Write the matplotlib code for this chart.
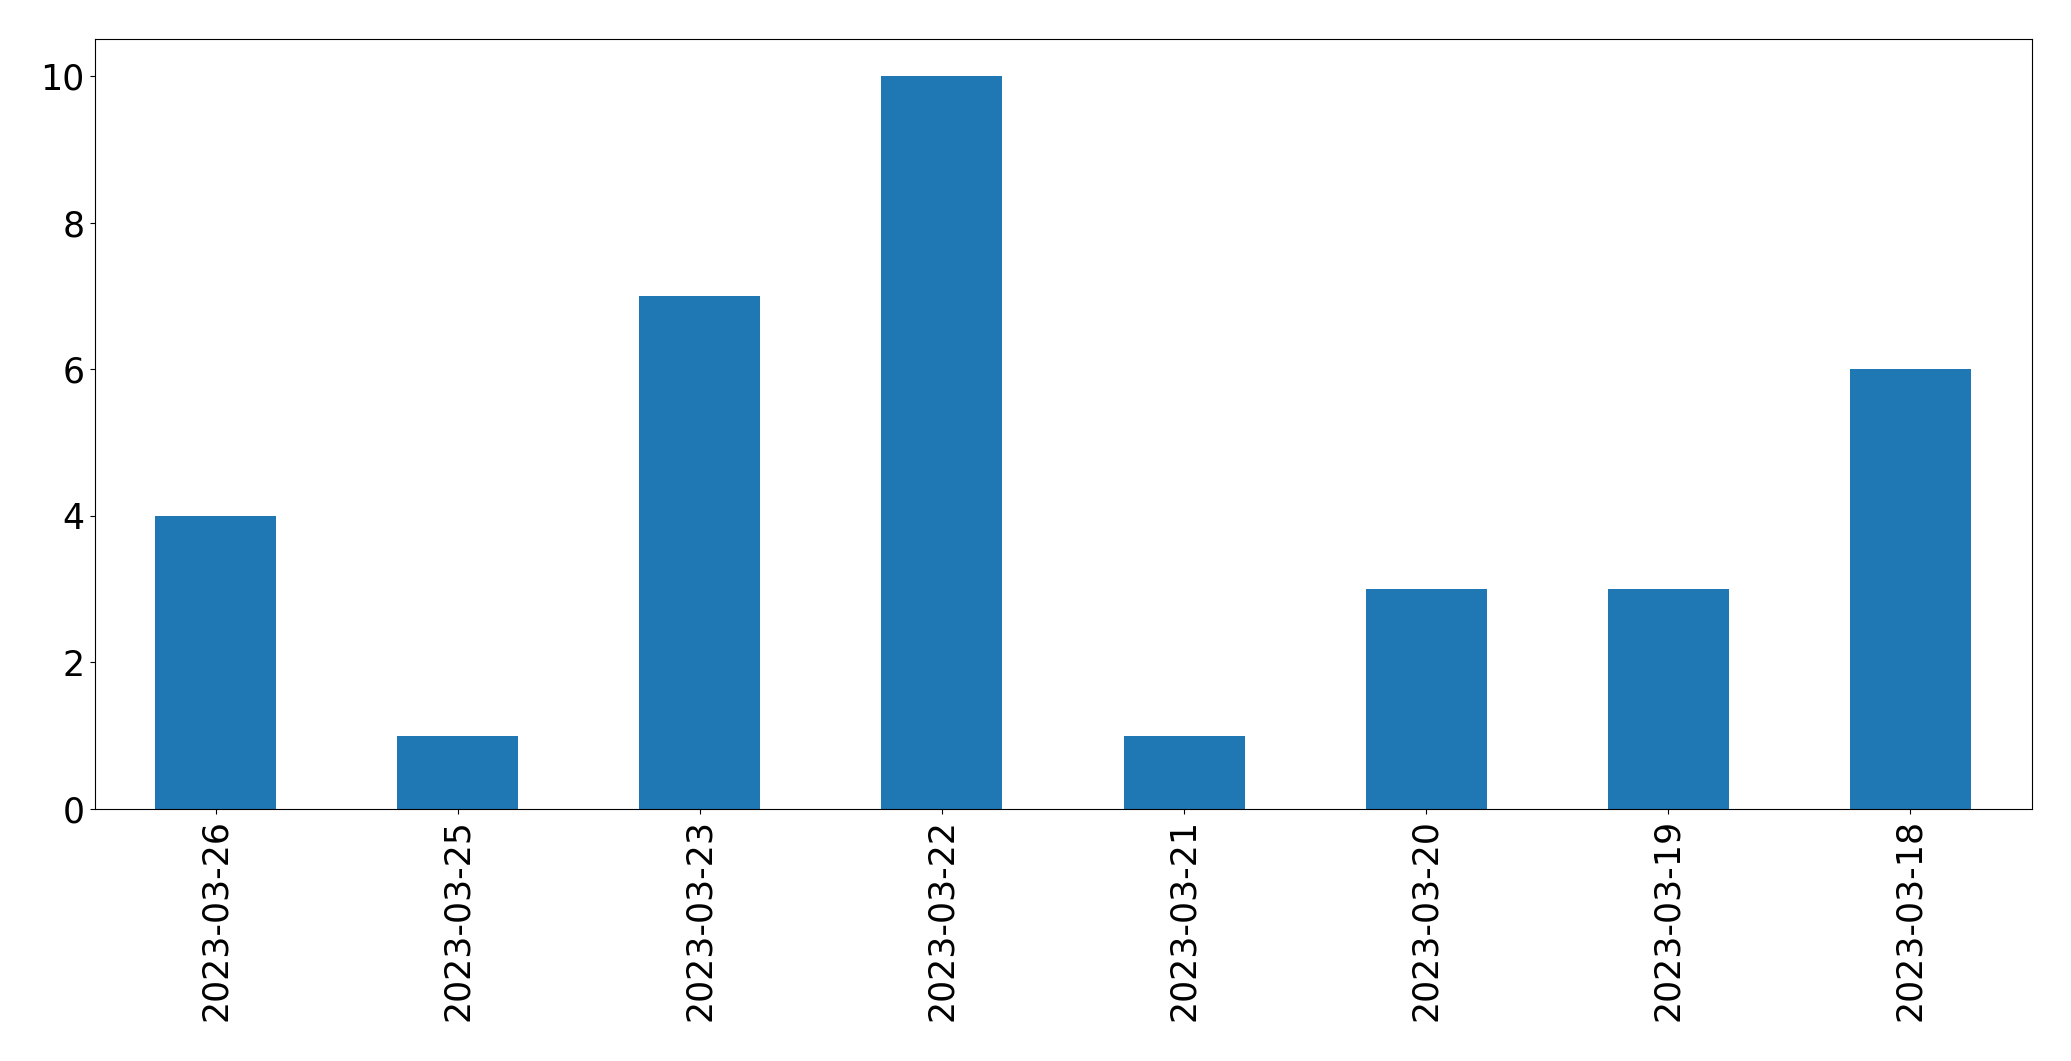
import matplotlib
matplotlib.use("Agg")
import matplotlib.pyplot as plt
import numpy as np

dates = ["2023-03-26", "2023-03-25", "2023-03-23", "2023-03-22",
         "2023-03-21", "2023-03-20", "2023-03-19", "2023-03-18"]
counts = [4, 1, 7, 10, 1, 3, 3, 6]

fig = plt.figure(figsize=(20.71, 10.61), dpi=100)
ax = fig.add_axes([94.5 / 2071, 1 - 809 / 1061, (2031.5 - 94.5) / 2071, (809 - 39.3) / 1061])
x = np.arange(len(dates))
ax.bar(x, counts, width=0.5, color="#1f77b4")
ax.set_xlim(-0.5, len(dates) - 0.5)
ax.set_ylim(0, 10.5)
ax.set_xticks(x)
ax.set_xticklabels(dates, rotation=90)
ax.set_yticks([0, 2, 4, 6, 8, 10])
ax.tick_params(labelsize=25)
fig.savefig("out.png", dpi=100)
